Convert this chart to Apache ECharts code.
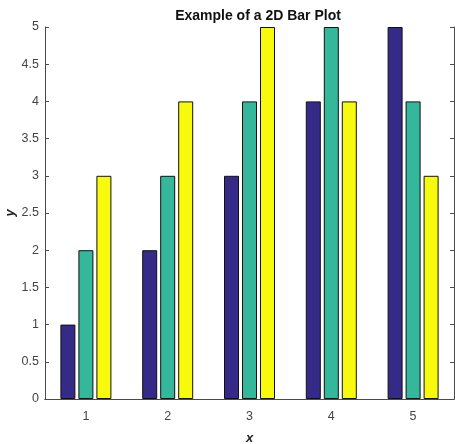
<!DOCTYPE html>
<html>
<head>
<meta charset="utf-8">
<script src="https://cdn.jsdelivr.net/npm/echarts@6/dist/echarts.min.js"></script>
<style>
  html, body { margin: 0; padding: 0; background: #fff; }
  #chart { width: 455px; height: 444px; }
</style>
</head>
<body>
<div id="chart"></div>
<script>
const categories = ['1', '2', '3', '4', '5'];
const seriesA = [1, 2, 3, 4, 5];
const seriesB = [2, 3, 4, 5, 4];
const seriesC = [3, 4, 5, 4, 3];
const colors = ['#352a87', '#35b79c', '#f8fa0d'];

const chart = echarts.init(document.getElementById('chart'));

const axisColor = '#4a4a4a';
const font = 'Liberation Sans, Arial, sans-serif';

const barStyle = (c) => ({ color: c, borderColor: '#111', borderWidth: 1 });

chart.setOption({
  animation: false,
  title: {
    text: 'Example of a 2D Bar Plot',
    left: 253,
    top: 4,
    textAlign: 'center',
    textStyle: { fontFamily: font, fontSize: 14, fontWeight: 'bold', color: '#111' }
  },
  grid: { left: 45, right: 1, top: 27, bottom: 45, outerBoundsMode: 'none', containLabel: false },
  xAxis: [{
    type: 'category',
    data: categories,
    name: 'x',
    nameLocation: 'middle',
    nameGap: 33,
    nameMoveOverlap: false,
    nameTextStyle: { fontFamily: font, fontSize: 13, fontWeight: 'bold', fontStyle: 'italic', color: '#222' },
    axisLine: { lineStyle: { color: axisColor } },
    axisTick: { inside: true, length: 4, alignWithLabel: true, lineStyle: { color: axisColor } },
    axisLabel: { fontFamily: font, fontSize: 12.5, color: '#444', margin: 11 }
  }, {
    type: 'category',
    data: categories,
    position: 'top',
    axisLine: { lineStyle: { color: axisColor } },
    axisTick: { inside: true, length: 4, alignWithLabel: true, lineStyle: { color: axisColor } },
    axisLabel: { show: false }
  }],
  yAxis: [{
    type: 'value',
    min: 0,
    max: 5,
    interval: 0.5,
    name: 'y',
    nameLocation: 'middle',
    nameGap: 28,
    nameMoveOverlap: false,
    nameTextStyle: { fontFamily: font, fontSize: 13, fontWeight: 'bold', fontStyle: 'italic', color: '#222' },
    axisLine: { show: true, lineStyle: { color: axisColor } },
    axisTick: { show: true, inside: true, length: 4, lineStyle: { color: axisColor } },
    axisLabel: { fontFamily: font, fontSize: 12.5, color: '#444', margin: 6 },
    splitLine: { show: false }
  }, {
    type: 'value',
    min: 0,
    max: 5,
    interval: 0.5,
    position: 'right',
    axisLine: { show: true, lineStyle: { color: axisColor } },
    axisTick: { show: true, inside: true, length: 4, lineStyle: { color: axisColor } },
    axisLabel: { show: false },
    splitLine: { show: false }
  }],
  series: [
    { type: 'bar', data: seriesA, barWidth: 15, barGap: '20%', itemStyle: barStyle(colors[0]) },
    { type: 'bar', data: seriesB, barWidth: 15, barGap: '20%', itemStyle: barStyle(colors[1]) },
    { type: 'bar', data: seriesC, barWidth: 15, barGap: '20%', itemStyle: barStyle(colors[2]) }
  ]
});
</script>
</body>
</html>
